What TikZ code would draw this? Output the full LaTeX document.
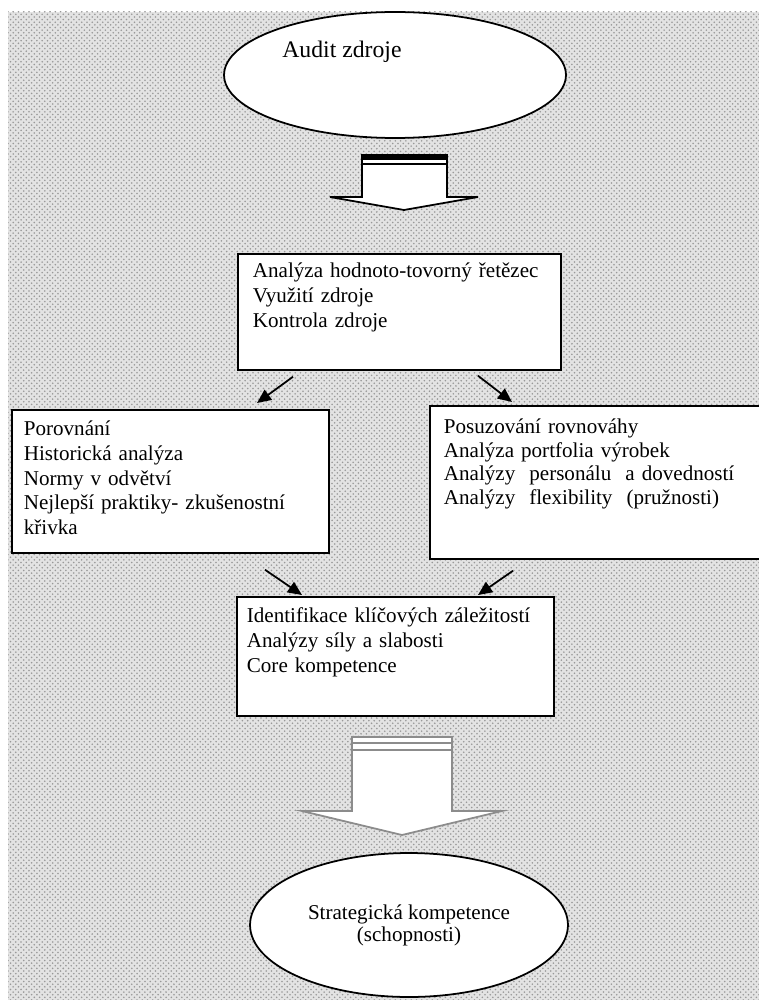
\documentclass[tikz,border=0pt]{standalone}
\usepackage{fontspec}
\setmainfont{Liberation Serif}
\usepackage{tikz}
\usetikzlibrary{shapes}
\usetikzlibrary{arrows.meta}
\usetikzlibrary{patterns}
\tikzstyle{zacatek}=[ellipse,draw,line width=1pt,fill=white,inner sep=0pt]
\tikzstyle{blok}=[rectangle,draw,line width=1pt,fill=white,anchor=north west,align=left,inner ysep=0pt]
\tikzstyle{sipka}=[-{Triangle[length=8pt,width=7pt]},line width=1pt]
\tikzstyle{sipkablok}=[draw,line width=1pt,fill=white,line join=miter]

\begin{document}
\begin{tikzpicture}[x=0.02cm,y=-0.02cm,font=\fontsize{12}{14}\selectfont]
\useasboundingbox (0,0) rectangle (759,1000);
\fill[black!11] (8,12) rectangle (759,1000);
\fill[pattern=crosshatch dots,pattern color=black!40] (8,12) rectangle (759,1000);

\node[zacatek,minimum width=6.84cm,minimum height=2.52cm] (audit) at (395,75) {};
\node[anchor=base west,inner sep=0pt,font=\fontsize{13.5}{15}\selectfont] (auditText) at (282,58) {Audit zdroje};

%sipka dolu
\draw[sipkablok] (362,155) -- (362,197) -- (330,197) -- (404,210) -- (478,197) -- (447,197) -- (447,155) -- cycle;
\fill (362,155) rectangle (447,160);
\draw[line width=0.8pt] (362,164) -- (447,164);

\node[blok,text width=5.86cm,inner xsep=0.3cm,text height=0.48cm,text depth=1.84cm] (analyza) at (237,253) {Analýza hodnoto-tovorný řetězec\\Využití zdroje\\Kontrola zdroje};
\node[blok,text width=5.86cm,inner xsep=0.24cm,text height=0.52cm,text depth=2.34cm] (porovnani) at (11,409) {Porovnání\\Historická analýza\\Normy v odvětví\\Nejlepší praktiky- zkušenostní\\křivka};
\node[blok,text width=6.1cm,inner xsep=0.28cm,text height=0.56cm,text depth=2.5cm,font=\fontsize{12}{13.4}\selectfont] (posuzovani) at (429,405) {Posuzování rovnováhy\\Analýza portfolia výrobek\\Analýzy~ personálu~ a dovedností\\Analýzy~ flexibility~ (pružnosti)};
\node[blok,text width=5.94cm,inner xsep=0.2cm,text height=0.52cm,text depth=1.86cm] (identifikace) at (236,596) {Identifikace klíčových záležitostí\\Analýzy síly a slabosti\\Core kompetence};

%sipky
\draw[sipka] ([shift={(56,6)}]analyza.south west) -- ([shift={(246,-6)}]porovnani.north west);
\draw[sipka] ([shift={(241,5)}]analyza.south west) -- ([shift={(83,-3)}]posuzovani.north west);
\draw[sipka] ([shift={(254,16)}]porovnani.south west) -- ([shift={(66,-1)}]identifikace.north west);
\draw[sipka] ([shift={(84,11)}]posuzovani.south west) -- ([shift={(242,-1)}]identifikace.north west);

%seda sipka
\draw[sipkablok,draw=black!45] (352,737) -- (352,811) -- (302,811) -- (402,835) -- (502,811) -- (452,811) -- (452,737) -- cycle;
\draw[black!45,line width=1pt] (352,743) -- (452,743) (352,750) -- (452,750);

\node[zacatek,minimum width=6.36cm,minimum height=2.88cm,align=center,font=\fontsize{12}{12.5}\selectfont] (strategicka) at (409,925) {Strategická kompetence\\(schopnosti)};
\end{tikzpicture}
\end{document}
